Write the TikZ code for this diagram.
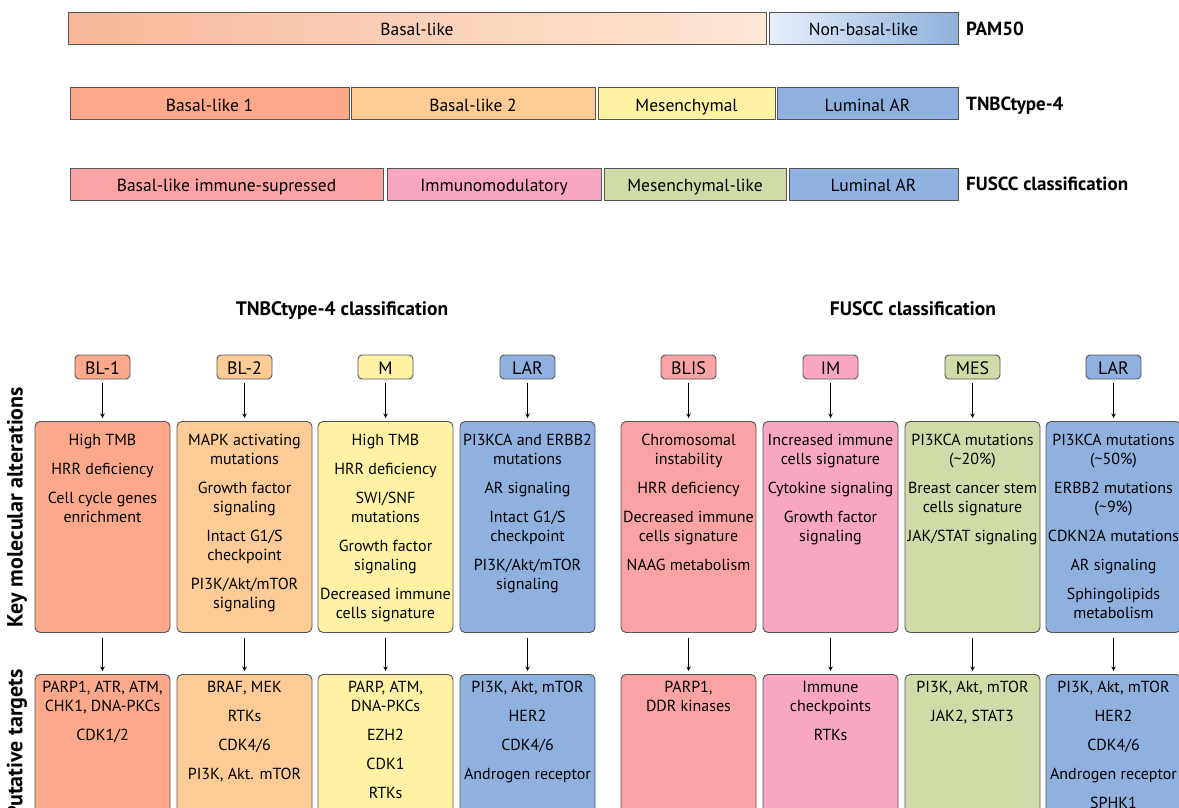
\documentclass[tikz,border=0pt]{standalone}
\usepackage{fontspec}
\setmainfont{PT Sans}
\usetikzlibrary{positioning}
\definecolor{boxline}{HTML}{555555}
\definecolor{basalL}{HTML}{F8B799}
\definecolor{basalR}{HTML}{FDE8D6}
\definecolor{nonbasalL}{HTML}{E8EFFA}
\definecolor{nonbasalR}{HTML}{8FB0DC}
\definecolor{blone}{HTML}{FBA98A}
\definecolor{bltwo}{HTML}{FDCC96}
\definecolor{mesen}{HTML}{FFF2A4}
\definecolor{lumar}{HTML}{8FB1DF}
\definecolor{blis}{HTML}{F9A3A4}
\definecolor{immod}{HTML}{F9A6C5}
\definecolor{meslike}{HTML}{CFDCA8}
\tikzset{
  bar/.style={draw=boxline, line width=0.9pt, minimum height=32pt, inner sep=0pt,
    text height=15pt, text depth=0pt, font=\fontsize{17.5}{20}\selectfont},
  tag/.style={draw=boxline, line width=0.9pt, rounded corners=4pt, minimum width=55pt,
    minimum height=24pt, inner sep=0pt, text height=14pt, text depth=0pt,
    font=\fontsize{18}{20}\selectfont},
  panel/.style={draw=boxline, line width=0.9pt, rounded corners=5pt, minimum width=135pt,
    inner sep=0pt, anchor=north},
  paneltext/.style={anchor=north, align=center, inner sep=0pt,
    font=\fontsize{16}{19}\selectfont},
  rowlabel/.style={anchor=west, inner sep=0pt, text height=13.3pt, text depth=0pt,
    font=\bfseries\fontsize{19}{21}\selectfont},
  title/.style={text height=13.6pt, text depth=0pt, font=\bfseries\fontsize{19.5}{21}\selectfont},
  sidelabel/.style={rotate=90, inner sep=0pt, font=\bfseries\fontsize{22}{24}\selectfont},
}
\newcommand{\gap}{\\[10pt]}
\begin{document}
\begin{tikzpicture}[x=1pt, y=-1pt, >=stealth, line join=round]
  \useasboundingbox (0,0) rectangle (1179,808);
  \clip (0,0) rectangle (1179,808);
  % classification bars
  \node[bar, minimum width=698pt, left color=basalL, right color=basalR] (pambasal) at (417,28.5) {Basal-like};
  \node[bar, minimum width=189pt, left color=nonbasalL, right color=nonbasalR] (pamnon) at (863.5,28.5) {Non-basal-like};
  \node[rowlabel] (pamlab) at (966,28.5) {PAM50};
  \foreach \n/\x/\w/\col/\txt in {bla/209.5/279/blone/Basal-like 1, blb/473/244/bltwo/Basal-like 2,
      mes/686.5/177/mesen/Mesenchymal, lar/867.5/181/lumar/Luminal AR}
    \node[bar, fill=\col, minimum width=\w pt] (tn\n) at (\x,103.5) {\txt};
  \node[rowlabel] (tnlab) at (966,103.5) {TNBCtype-4};
  \foreach \n/\x/\w/\col/\txt in {blis/226.5/313/blis/Basal-like immune-supressed, im/494/214/immod/Immunomodulatory,
      mes/695/182/meslike/Mesenchymal-like, lar/873.5/169/lumar/Luminal AR}
    \node[bar, fill=\col, minimum width=\w pt] (fu\n) at (\x,184) {\txt};
  \node[rowlabel] (fulab) at (966,184) {FUSCC classification};

  % subtype panels
  \node[title] (tntitle) at (342,309) {TNBCtype-4 classification};
  \node[title] (futitle) at (913,309) {FUSCC classification};
  \node[sidelabel] (keylab) at (17,507) {Key molecular alterations};
  \node[sidelabel, anchor=east] (putlab) at (17,669) {Putative targets};
  \foreach \i/\x/\col/\tg in {1/102.5/blone/BL-1, 2/244.5/bltwo/BL-2, 3/385.5/mesen/M, 4/527.5/lumar/LAR,
      5/688.5/blis/BLIS, 6/830.5/immod/IM, 7/972.5/meslike/MES, 8/1113.5/lumar/LAR}{
    \node[tag, fill=\col] (h\i) at (\x,367) {\tg};
    \node[panel, fill=\col, minimum height=211pt] (k\i) at (\x,421) {};
    \node[panel, fill=\col, minimum height=150pt] (t\i) at (\x,674) {};
    \draw[->, line width=1pt, shorten <=4pt, shorten >=3pt] (h\i) -- (k\i);
    \draw[->, line width=1pt, shorten <=5pt, shorten >=3pt] (k\i) -- (t\i);
  }
  % key molecular alterations
  \node[paneltext] (k1txt) at ([yshift=-12.5pt]k1.north) {High TMB\gap HRR deficiency\gap Cell cycle genes\\enrichment};
  \node[paneltext] (k2txt) at ([yshift=-12.5pt]k2.north) {MAPK activating\\mutations\gap Growth factor\\signaling\gap
    Intact G1/S\\checkpoint\gap PI3K/Akt/mTOR\\signaling};
  \node[paneltext] (k3txt) at ([yshift=-12.5pt]k3.north) {High TMB\gap HRR deficiency\gap SWI/SNF\\mutations\gap
    Growth factor\\signaling\gap Decreased immune\\cells signature};
  \node[paneltext] (k4txt) at ([yshift=-12.5pt]k4.north) {PI3KCA and ERBB2\\mutations\gap AR signaling\gap
    Intact G1/S\\checkpoint\gap PI3K/Akt/mTOR\\signaling};
  \node[paneltext] (k5txt) at ([yshift=-12.5pt]k5.north) {Chromosomal\\instability\gap HRR deficiency\gap
    Decreased immune\\cells signature\gap NAAG metabolism};
  \node[paneltext] (k6txt) at ([yshift=-12.5pt]k6.north) {Increased immune\\cells signature\gap Cytokine signaling\gap
    Growth factor\\signaling};
  \node[paneltext] (k7txt) at ([yshift=-12.5pt]k7.north) {PI3KCA mutations\\(\textasciitilde20\%)\gap
    Breast cancer stem\\cells signature\gap JAK/STAT signaling};
  \node[paneltext] (k8txt) at ([yshift=-12.5pt]k8.north) {PI3KCA mutations\\(\textasciitilde50\%)\gap
    ERBB2 mutations\\(\textasciitilde9\%)\gap CDKN2A mutations\gap AR signaling\gap Sphingolipids\\metabolism};
  % putative targets
  \node[paneltext] (t1txt) at ([yshift=-7pt]t1.north) {PARP1, ATR, ATM,\\CHK1, DNA-PKCs\gap CDK1/2};
  \node[paneltext] (t2txt) at ([yshift=-7pt]t2.north) {BRAF, MEK\gap RTKs\gap CDK4/6\gap PI3K, Akt. mTOR};
  \node[paneltext] (t3txt) at ([yshift=-7pt]t3.north) {PARP, ATM,\\DNA-PKCs\gap EZH2\gap CDK1\gap RTKs};
  \node[paneltext] (t4txt) at ([yshift=-7pt]t4.north) {PI3K, Akt, mTOR\gap HER2\gap CDK4/6\gap Androgen receptor};
  \node[paneltext] (t5txt) at ([yshift=-7pt]t5.north) {PARP1,\\DDR kinases};
  \node[paneltext] (t6txt) at ([yshift=-7pt]t6.north) {Immune\\checkpoints\gap RTKs};
  \node[paneltext] (t7txt) at ([yshift=-7pt]t7.north) {PI3K, Akt, mTOR\gap JAK2, STAT3};
  \node[paneltext] (t8txt) at ([yshift=-7pt]t8.north) {PI3K, Akt, mTOR\gap HER2\gap CDK4/6\gap Androgen receptor\gap SPHK1};
\end{tikzpicture}
\end{document}
